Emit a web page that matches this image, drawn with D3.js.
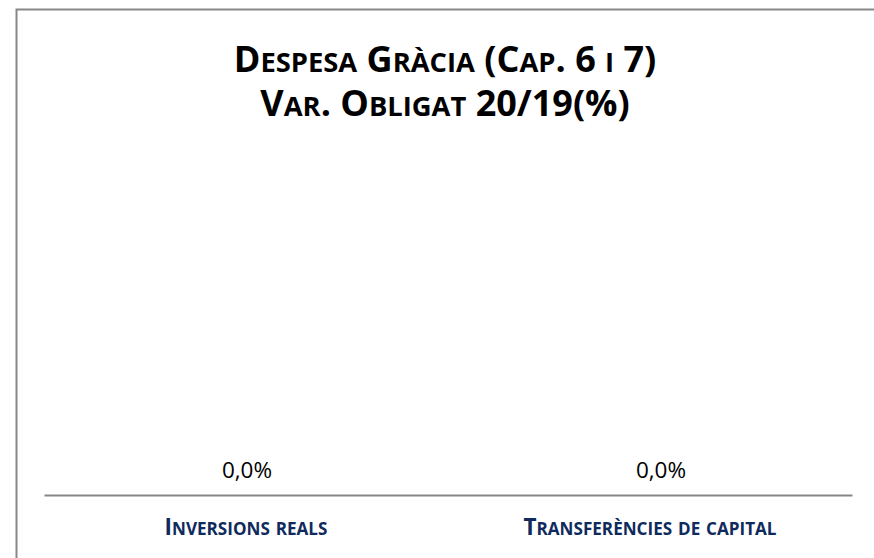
<!DOCTYPE html>
<html>
<head>
<meta charset="utf-8">
<script src="https://cdn.jsdelivr.net/npm/d3@7"></script>
<style>
  html, body { margin: 0; padding: 0; background: #fff; }
  svg { display: block; }
  text { font-family: "Open Sans", Lato, "Liberation Sans", sans-serif; }
</style>
</head>
<body>
<svg id="chart" width="874" height="558"></svg>
<script>
// Capital spending, Gràcia district: change in obligations 2020 vs 2019
const categories = ["Inversions reals", "Transferències de capital"];
const values = [0.0, 0.0];
const titleLines = ["Despesa Gràcia (Cap. 6 i 7)", "Var. Obligat 20/19(%)"];

const W = 874, H = 558;
const margin = { left: 44, right: 22, top: 130, bottom: 63 };
const SMALL = 0.76; // relative size of small capitals

const svg = d3.select("#chart");

// write a string in small caps: capitals at full size, lowercase as reduced capitals
function smallCaps(parent, str, size) {
  const runs = [];
  for (const ch of str) {
    const low = ch !== ch.toUpperCase();
    if (runs.length && runs[runs.length - 1].low === low) runs[runs.length - 1].s += ch;
    else runs.push({ low, s: ch });
  }
  runs.forEach(r => {
    parent.append("tspan")
      .attr("font-size", r.low ? size * SMALL : size)
      .text(r.low ? r.s.toUpperCase() : r.s);
  });
}

// outer frame (only top and left edges fall inside the viewport)
svg.append("rect")
  .attr("x", 16.5).attr("y", 9.5)
  .attr("width", W + 40).attr("height", H + 40)
  .attr("fill", "#fff")
  .attr("stroke", "#878787")
  .attr("stroke-width", 2);

const x = d3.scaleBand()
  .domain(categories)
  .range([margin.left, W - margin.right])
  .paddingInner(0.3)
  .paddingOuter(0.15);

const y = d3.scaleLinear()
  .domain([0, 1])
  .range([H - margin.bottom, margin.top]);

// title, two lines in one text element
const title = svg.append("text")
  .attr("text-anchor", "middle")
  .attr("font-weight", "bold")
  .attr("fill", "#000");
titleLines.forEach((t, i) => {
  const line = title.append("tspan")
    .attr("x", 445)
    .attr("y", 72 + i * 44);
  smallCaps(line, t, 36);
});

// bars (zero-height for zero values)
svg.append("g").selectAll("rect")
  .data(values)
  .join("rect")
  .attr("x", (d, i) => x(categories[i]))
  .attr("width", x.bandwidth())
  .attr("y", d => y(Math.max(0, d)))
  .attr("height", d => Math.abs(y(d) - y(0)))
  .attr("fill", "#1f3864");

// category axis line
const axis = d3.axisBottom(x).tickSize(0).tickFormat("");
const axisG = svg.append("g")
  .attr("transform", `translate(0,${y(0)})`)
  .call(axis);
axisG.select(".domain")
  .attr("stroke", "#878787")
  .attr("stroke-width", 2);

// category labels
categories.forEach(c => {
  const t = svg.append("text")
    .attr("x", x(c) + x.bandwidth() / 2)
    .attr("y", y(0) + 40)
    .attr("text-anchor", "middle")
    .attr("font-weight", "bold")
    .attr("fill", "#0f2a5c");
  smallCaps(t, c.charAt(0).toUpperCase() + c.slice(1), 22.5);
});

// value labels
const fmt = v => v.toFixed(1).replace(".", ",") + "%";
svg.append("g").selectAll("text")
  .data(values)
  .join("text")
  .attr("x", (d, i) => x(categories[i]) + x.bandwidth() / 2 + (i === 1 ? 11 : 1))
  .attr("y", d => y(d) - 17)
  .attr("text-anchor", "middle")
  .attr("font-size", 22.5)
  .attr("fill", "#000")
  .text(fmt);
</script>
</body>
</html>
